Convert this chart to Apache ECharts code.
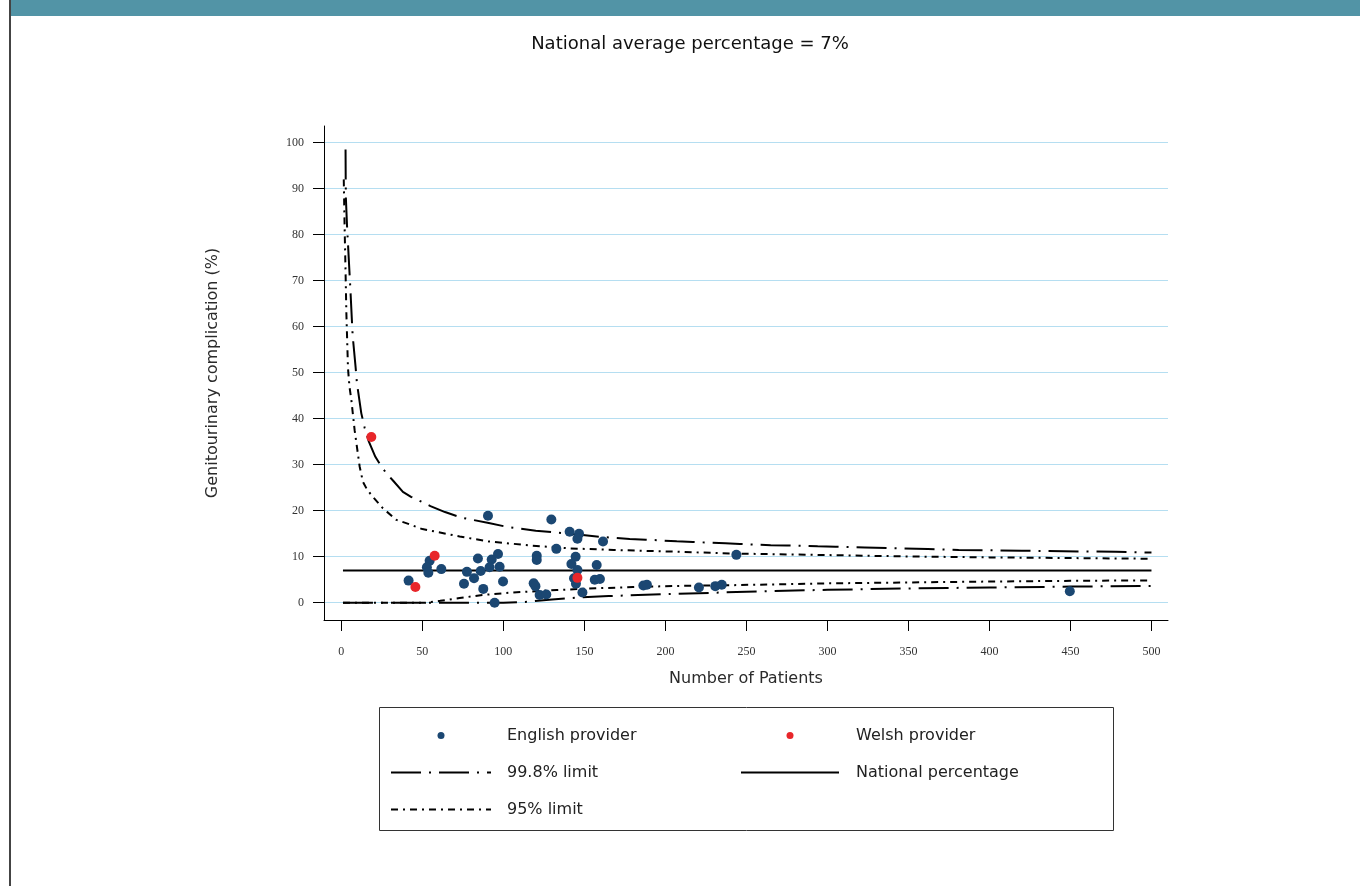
<!DOCTYPE html>
<html>
<head>
<meta charset="utf-8">
<title>Genitourinary complication funnel plot</title>
<script src="https://cdn.jsdelivr.net/npm/echarts@6/dist/echarts.min.js"></script>
<style>
  html, body { margin: 0; padding: 0; background: #ffffff; }
  #chart { width: 1360px; height: 886px; }
</style>
</head>
<body>
<div id="chart"></div>
<script>
// Provider results: number of patients and complication percentage
const englishPatients = [90.5, 54.5, 52.8, 53.7, 61.7, 41.5, 84.3, 92.8, 96.7, 77.5, 86, 91.5, 97.7, 75.7, 81.9, 87.6, 99.8, 94.6,
  129.6, 140.9, 146.7, 145.7, 161.5, 132.7, 120.6, 120.6, 144.6, 142, 157.6, 145.7, 143.6, 144.8, 156.4, 159.6, 118.7, 119.8,
  122.4, 126.5, 148.8, 186.4, 188.6, 220.7, 230.8, 234.8, 243.8, 449.6];
const englishPct = [18.9, 9.1, 7.7, 6.5, 7.3, 4.8, 9.6, 9.4, 10.6, 6.7, 6.9, 7.7, 7.8, 4.1, 5.3, 3.0, 4.6, 0.0,
  18.1, 15.4, 15.0, 13.9, 13.3, 11.7, 10.2, 9.3, 10.0, 8.4, 8.2, 7.1, 5.3, 4.1, 5.0, 5.15, 4.2, 3.6,
  1.7, 1.8, 2.2, 3.75, 3.9, 3.3, 3.6, 3.9, 10.4, 2.5];
const welshPatients = [18.5, 57.6, 45.7, 145.7];
const welshPct = [36.0, 10.2, 3.4, 5.4];

// Control limits around the national percentage
const upper998Patients = [2.6, 2.7, 2.8, 3.5, 4.1, 5, 5.6, 6.5, 7, 8.8, 9.6, 12.3, 14.4, 17, 21, 24, 27, 32, 38, 43, 48, 55, 64, 74, 91,
  102, 120, 131, 149, 159, 178, 188, 207, 217, 237, 246, 265, 275, 294, 305, 323, 362, 381, 420, 478, 500];
const upper998Pct = [98.5, 92, 88, 82, 78, 72, 68, 61.5, 58, 51.2, 47.8, 41.2, 38, 35, 31.7, 30, 28.5, 26.5, 24.1, 23, 22.2, 21, 19.7, 18.5, 17.3,
  16.5, 15.65, 15.3, 14.7, 14.35, 13.85, 13.7, 13.35, 13.2, 12.9, 12.76, 12.5, 12.45, 12.25, 12.15, 12.0, 11.67, 11.46, 11.3, 11.05, 10.9];
const lower998Patients = [1, 100, 115, 130, 145, 165, 200, 250, 300, 350, 400, 450, 500];
const lower998Pct = [0, 0, 0.2, 0.7, 1.1, 1.45, 1.85, 2.38, 2.8, 3.1, 3.3, 3.5, 3.65];

const upper95Patients = [1.5, 2, 2.6, 3.1, 4.1, 5, 6.2, 8.2, 11.3, 13.3, 16, 19.5, 25.7, 34, 40, 50, 63, 73, 91, 118, 141, 168, 205,
  240, 300, 350, 400, 450, 500];
const upper95Pct = [92, 82, 72, 63, 51, 47, 44, 37.5, 29.6, 26.3, 24.5, 23, 20.5, 18, 17.3, 16, 15.1, 14.4, 13.3, 12.4, 11.8, 11.46, 11.1,
  10.7, 10.35, 10.05, 9.85, 9.7, 9.55];
const lower95Patients = [1, 52, 61, 73, 87, 105, 133, 157, 180, 205, 240, 300, 350, 400, 450, 500];
const lower95Pct = [0, 0, 0.4, 1.0, 1.67, 2.2, 2.76, 3.13, 3.4, 3.63, 3.8, 4.2, 4.4, 4.6, 4.75, 4.85];

const nationalPatients = [1, 500];
const nationalPct = [7, 7];

const xTicks = [0, 50, 100, 150, 200, 250, 300, 350, 400, 450, 500];
const yTicks = [0, 10, 20, 30, 40, 50, 60, 70, 80, 90, 100];

const pairs = (xs, ys) => xs.map((x, i) => [x, ys[i]]);

const SANS = '"DejaVu Sans", "Noto Sans", sans-serif';
const SERIF = '"Liberation Serif", "DejaVu Serif", serif';

const dash998 = [30, 8, 2, 8];
const dash95 = [7, 5, 2, 5];

function limitLine(name, xs, ys, dash) {
  return {
    type: 'line', name: name, data: pairs(xs, ys),
    symbol: 'none', showSymbol: false, silent: true, z: 2,
    itemStyle: { color: 'rgba(0,0,0,0)' },
    lineStyle: { color: '#000000', width: 2, type: dash }
  };
}

const chart = echarts.init(document.getElementById('chart'), null, { renderer: 'canvas' });

chart.setOption({
  animation: false,
  backgroundColor: '#ffffff',
  graphic: [
    { type: 'rect', left: 11, top: 0, shape: { width: 1349, height: 16 }, style: { fill: '#5294a6' }, silent: true },
    { type: 'rect', left: 9, top: 0, shape: { width: 2, height: 886 }, style: { fill: '#444444' }, silent: true },
    { type: 'text', x: 690, y: 44, silent: true,
      style: { text: 'National average percentage = 7%', font: '18px ' + SANS, fill: '#111111',
               textAlign: 'center', textVerticalAlign: 'middle' } },
    { type: 'rect', x: 379.5, y: 707.5, shape: { width: 734, height: 123 }, silent: true,
      style: { fill: 'none', stroke: '#333333', lineWidth: 1 } }
  ],
  grid: { left: 324, right: 192, top: 126, bottom: 266, containLabel: false },
  legend: [
    {
      left: 390, top: 726.5, padding: 0, orient: 'vertical', itemWidth: 100, itemHeight: 7, itemGap: 19,
      selectedMode: false,
      data: ['English provider', '99.8% limit', '95% limit'],
      textStyle: { fontFamily: SANS, fontSize: 16, color: '#222222', padding: [0, 0, 0, 11], lineHeight: 18 }
    },
    {
      left: 740, top: 726.5, padding: 0, orient: 'vertical', itemWidth: 98, itemHeight: 7, itemGap: 19,
      selectedMode: false,
      data: ['Welsh provider', 'National percentage'],
      textStyle: { fontFamily: SANS, fontSize: 16, color: '#222222', padding: [0, 0, 0, 12], lineHeight: 18 }
    }
  ],
  xAxis: {
    type: 'value', min: -10.7, max: 510.2,
    name: 'Number of Patients', nameLocation: 'middle', nameGap: 51,
    nameTextStyle: { fontFamily: SANS, fontSize: 16, color: '#2a2a2a' },
    axisLine: { show: true, onZero: false, lineStyle: { color: '#000000', width: 1 } },
    axisTick: { show: true, customValues: xTicks, length: 11, lineStyle: { color: '#000000' } },
    axisLabel: { customValues: xTicks, margin: 26, fontFamily: SERIF, fontSize: 12, color: '#333333' },
    splitLine: { show: false }
  },
  yAxis: {
    type: 'value', min: -3.76, max: 103.6,
    name: 'Genitourinary complication (%)', nameLocation: 'middle', nameGap: 103, nameRotate: 90,
    nameTextStyle: { fontFamily: SANS, fontSize: 16, color: '#2a2a2a' },
    axisLine: { show: true, onZero: false, lineStyle: { color: '#000000', width: 1 } },
    axisTick: { show: true, customValues: yTicks, length: 11, lineStyle: { color: '#000000' } },
    axisLabel: { customValues: yTicks, margin: 20, fontFamily: SERIF, fontSize: 12, color: '#333333' },
    splitLine: { show: true, lineStyle: { color: '#b5def1', width: 1 } }
  },
  series: [
    limitLine('99.8% limit', upper998Patients, upper998Pct, dash998),
    limitLine('99.8% limit', lower998Patients, lower998Pct, dash998),
    limitLine('95% limit', upper95Patients, upper95Pct, dash95),
    limitLine('95% limit', lower95Patients, lower95Pct, dash95),
    {
      type: 'line', name: 'National percentage', data: pairs(nationalPatients, nationalPct),
      symbol: 'none', showSymbol: false, silent: true, z: 2,
      itemStyle: { color: 'rgba(0,0,0,0)' },
      lineStyle: { color: '#000000', width: 2, type: 'solid' }
    },
    {
      type: 'scatter', name: 'English provider', data: pairs(englishPatients, englishPct),
      symbol: 'circle', symbolSize: 10, z: 3,
      itemStyle: { color: '#1b4772', opacity: 1 }
    },
    {
      type: 'scatter', name: 'Welsh provider', data: pairs(welshPatients, welshPct),
      symbol: 'circle', symbolSize: 10, z: 4,
      itemStyle: { color: '#e8262a', opacity: 1 }
    }
  ]
});
</script>
</body>
</html>
